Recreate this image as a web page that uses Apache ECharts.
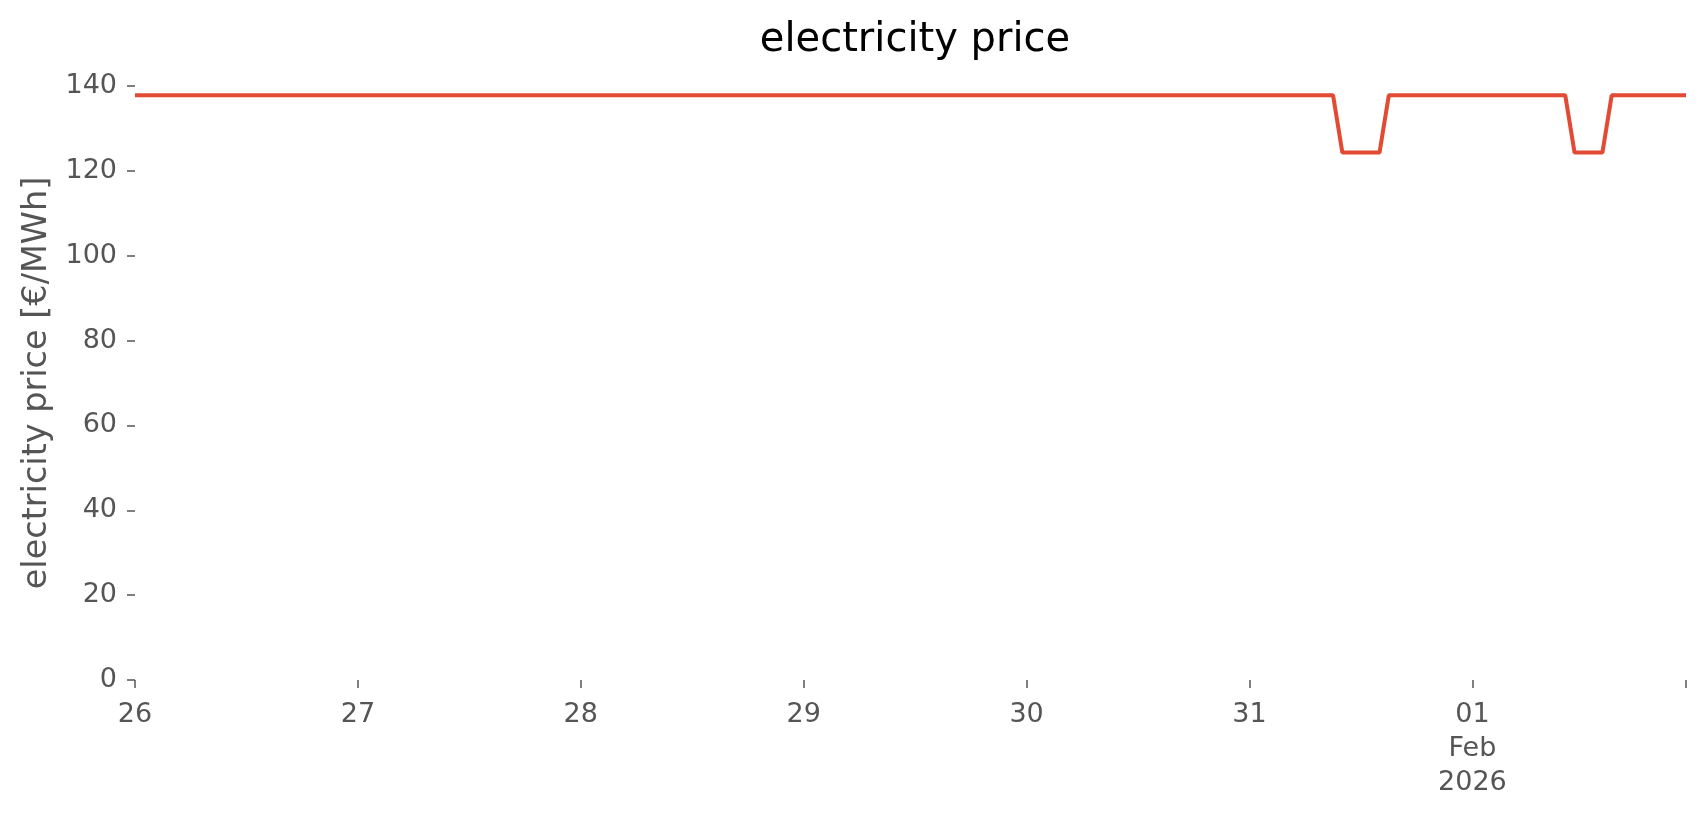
<!DOCTYPE html>
<html>
<head>
<meta charset="utf-8">
<script src="https://cdn.jsdelivr.net/npm/echarts@6/dist/echarts.min.js"></script>
<style>
html,body{margin:0;padding:0;background:#fff;}
#chart{width:1706px;height:815px;}
</style>
</head>
<body>
<div id="chart"></div>
<script>
// Vertices of the hourly price line (constant stretches between them)
const times = ['2026-01-26T00:00Z','2026-01-31T09:00Z','2026-01-31T10:00Z','2026-01-31T14:00Z','2026-01-31T15:00Z',
               '2026-02-01T10:00Z','2026-02-01T11:00Z','2026-02-01T14:00Z','2026-02-01T15:00Z','2026-02-01T23:00Z'];
const prices = [137.8, 137.8, 124.3, 124.3, 137.8, 137.8, 124.3, 124.3, 137.8, 137.8];
const xTickLabels = ['26','27','28','29','30','31','01\nFeb\n2026'];
const yTicks = [0, 20, 40, 60, 80, 100, 120, 140];

const start = Date.parse('2026-01-26T00:00Z');
const end = Date.parse('2026-02-01T23:00Z');
const H = 3600 * 1000;
const data = times.map((t, i) => [(Date.parse(t) - start) / H, prices[i]]);

const FONT = 'DejaVu Sans';
const chart = echarts.init(document.getElementById('chart'), null, {renderer: 'canvas'});
chart.setOption({
  backgroundColor: '#ffffff',
  animation: false,
  title: {
    text: 'electricity price',
    left: 910, textAlign: 'center', top: 16,
    textStyle: {fontFamily: FONT, fontSize: 40, fontWeight: 'normal', color: '#000'}
  },
  grid: {left: 135, right: 20, top: 86, bottom: 135},
  xAxis: {
    type: 'value', min: 0, max: (end - start) / H, interval: 24,
    offset: 5,
    axisLine: {show: false},
    axisTick: {show: true, length: 8, lineStyle: {color: '#555', width: 1.5}},
    splitLine: {show: false},
    axisLabel: {
      margin: 13, color: '#555', fontFamily: FONT, fontSize: 27, lineHeight: 34,
      formatter: v => (v % 24 === 0 && xTickLabels[v / 24] !== undefined) ? xTickLabels[v / 24] : ''
    }
  },
  yAxis: {
    type: 'value', min: 0, max: 140, interval: 20,
    offset: 1,
    name: 'electricity price [€/MWh]', nameLocation: 'middle', nameGap: 79,
    nameTextStyle: {fontFamily: FONT, fontSize: 33.5, color: '#555'},
    axisLine: {show: false},
    axisTick: {show: true, length: 8, lineStyle: {color: '#555', width: 1.5}},
    splitLine: {show: false},
    axisLabel: {
      margin: 17, color: '#555', fontFamily: FONT, fontSize: 27,
      formatter: v => yTicks.includes(v) ? String(v) : ''
    }
  },
  series: [{
    type: 'line', data: data, showSymbol: false, symbol: 'none', clip: false,
    lineStyle: {color: '#E24A33', width: 4},
    itemStyle: {color: '#E24A33'}
  }]
});
</script>
</body>
</html>
